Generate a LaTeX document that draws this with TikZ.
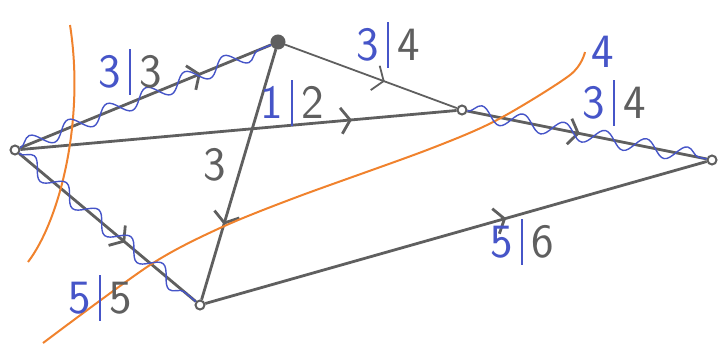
\documentclass[tikz,border=0pt]{standalone}
\usetikzlibrary{arrows.meta,decorations.pathmorphing,decorations.markings}
\definecolor{pencil}{RGB}{95,95,95}
\definecolor{flowblue}{RGB}{70,85,200}
\definecolor{cutorange}{RGB}{240,130,45}
% flow | capacity
\newcommand{\fc}[2]{\textcolor{flowblue}{#1\,\rule[-0.15em]{0.06em}{0.95em}}\,\textcolor{pencil}{#2}}

\tikzset{
  vert/.style={circle,draw=pencil,line width=2bp,fill=white,inner sep=0pt,minimum size=9bp},
  edge/.style={pencil,line width=2.8bp},
  midarrow/.style={postaction={decorate},decoration={markings,
      mark=at position #1 with {\arrow{Straight Barb[length=9bp,width=26bp]}}}},
  flowwave/.style={flowblue,line width=1.4bp,
      decoration={snake,amplitude=8bp,segment length=42bp},decorate},
  cut/.style={cutorange,line width=2bp},
  lbl/.style={font=\sffamily\fontsize{48}{48}\selectfont,inner sep=0pt}
}

\begin{document}
\begin{tikzpicture}[x=1bp,y=-1bp]
  \useasboundingbox (0,0) rectangle (723,344);

  \node[vert] (s) at (15,150) {};
  \node[vert,fill=pencil,minimum size=13bp] (a) at (278,42) {};
  \node[vert] (b) at (462,110) {};
  \node[vert] (t) at (712,160) {};
  \node[vert] (c) at (200,305) {};

  % edges
  \draw[edge,midarrow=0.72] (s) -- (a);
  \draw[edge,midarrow=0.76] (s) -- (b);
  \draw[edge,midarrow=0.6] (s) -- (c);
  \draw[edge,line width=1.8bp,midarrow=0.58] (a) -- (b);
  \draw[edge,midarrow=0.7] (a) -- (c);
  \draw[edge,midarrow=0.47] (b) -- (t);
  \draw[edge,midarrow=0.6] (c) -- (t);

  % cuts
  \draw[cut] (70,25) .. controls (85,120) and (60,220) .. (28,262);
  \draw[cut] plot[smooth] coordinates {(43,343) (150,265) (220,228) (297,197)
    (427,150) (497,120) (570,75) (585,52)};

  % saturated edges
  \draw[flowwave] (s) -- (a);
  \draw[flowwave] (s) -- (c);
  \draw[flowwave] (b) -- (t);

  % labels
  \node[lbl] (lsa) at (130,72) {\fc{3}{3}};
  \node[lbl] (lab) at (388,45) {\fc{3}{4}};
  \node[lbl] (lsb) at (292,103) {\fc{1}{2}};
  \node[lbl] (lbt) at (614,103) {\fc{3}{4}};
  \node[lbl,text=flowblue] (lbtn) at (603,52) {4};
  \node[lbl,text=pencil] (lac) at (215,165) {3};
  \node[lbl] (lct) at (522,242) {\fc{5}{6}};
  \node[lbl] (lsc) at (100,298) {\fc{5}{5}};
\end{tikzpicture}
\end{document}
